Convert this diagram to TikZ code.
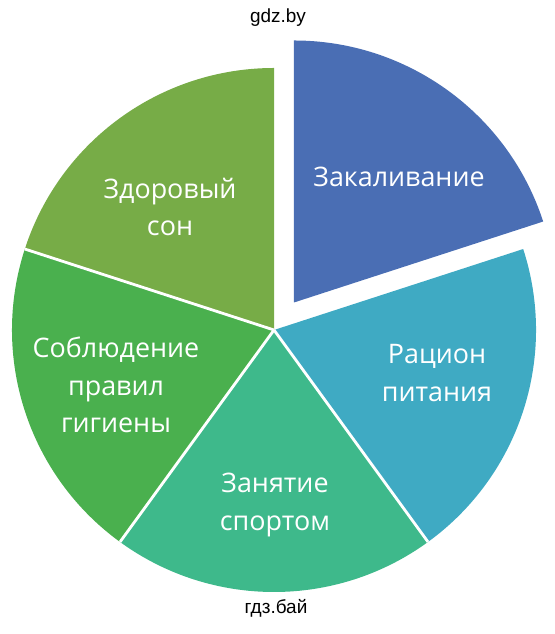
\documentclass[tikz,border=0pt]{standalone}
\usepackage{fontspec}
\setmainfont{Open Sans}
\newfontfamily\markfont{Liberation Sans}
\usetikzlibrary{calc, positioning}

\definecolor{hardening}{HTML}{4A6EB4}
\definecolor{diet}{HTML}{3FAAC3}
\definecolor{sport}{HTML}{3EB98B}
\definecolor{hygiene}{HTML}{4AB04E}
\definecolor{sleep}{HTML}{77AC47}

\begin{document}
\begin{tikzpicture}[x=0.02cm, y=0.02cm]

\tikzstyle{sep} = [draw=white, line width=1.6pt]
\tikzstyle{slicetext} = [text=white, align=center, font=\fontsize{15.3}{21.5}\selectfont]
\tikzstyle{wmark} = [font=\markfont\fontsize{10.8}{12}\selectfont]

\useasboundingbox (0,0) rectangle (554,634);

%Centre of the pie and of the pulled-out slice
\coordinate (c) at (274,304);
\coordinate (c2) at ($(c)+(54:34)$);

%Slices
\fill[sleep] (c) -- ++(90:262) arc (90:162:262) -- cycle;
\fill[hygiene] (c) -- ++(162:262) arc (162:234:262) -- cycle;
\fill[sport] (c) -- ++(234:262) arc (234:306:262) -- cycle;
\fill[diet] (c) -- ++(306:262) arc (306:378:262) -- cycle;
\fill[hardening] (c2) -- ++(18:262) arc (18:90:262) -- cycle;

%Separating lines
\draw[sep] (c) -- ++(162:262);
\draw[sep] (c) -- ++(234:262);
\draw[sep] (c) -- ++(306:262);

%Slice labels
\node[slicetext] (hard) at (399,457) {Закаливание};
\node[slicetext] (ration) at (437,261) {Рацион\\питания};
\node[slicetext] (sports) at (275,129) {Занятие\\спортом};
\node[slicetext] (hyg) at (116,249) {Соблюдение\\правил\\гигиены};
\node[slicetext] (dream) at (170,427) {Здоровый\\сон};

%Watermarks
\node[wmark] (wtop) at (278,616) {gdz.by};
\node[wmark] (wbottom) at (276,26) {гдз.бай};
\end{tikzpicture}
\end{document}
